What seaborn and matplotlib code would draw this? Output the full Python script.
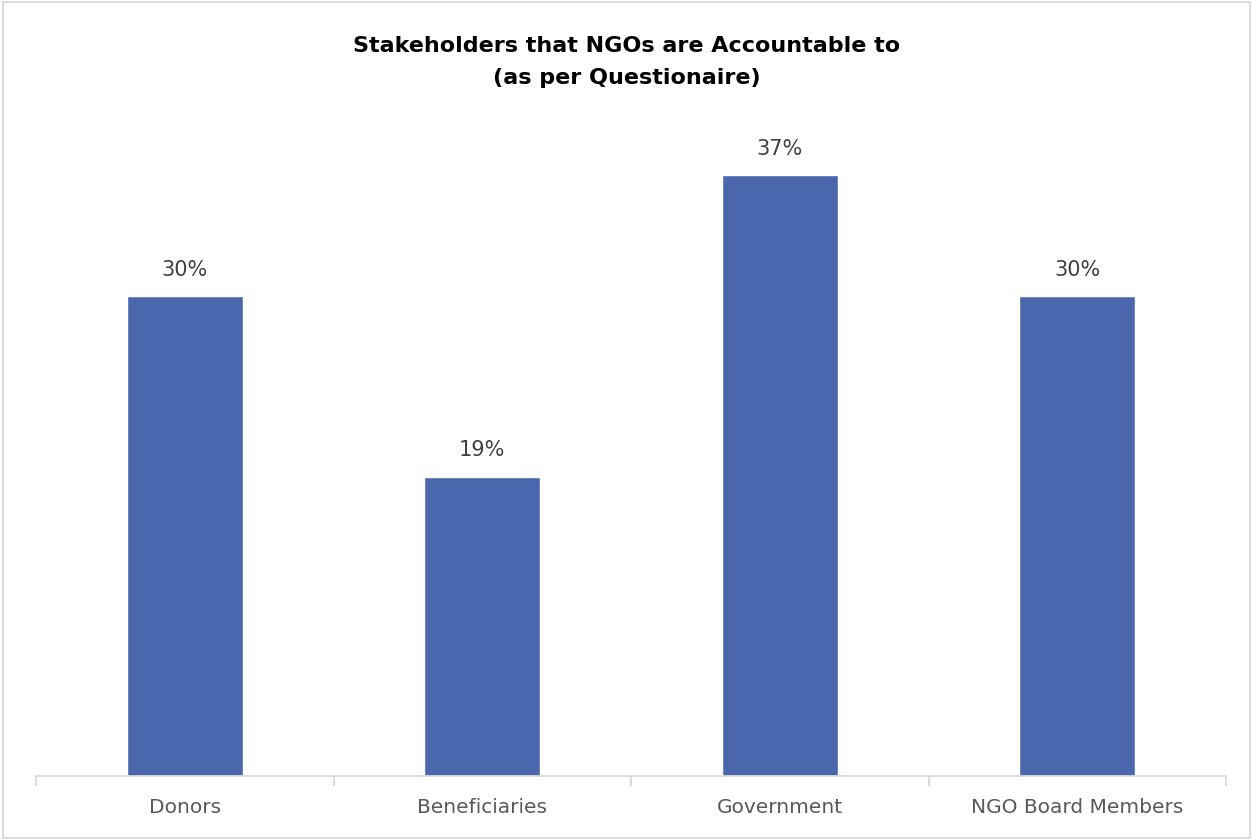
import matplotlib
matplotlib.use("Agg")
import matplotlib.pyplot as plt
import seaborn as sns
import pandas as pd
from matplotlib.patches import Rectangle

categories = ["Donors", "Beneficiaries", "Government", "NGO Board Members"]
values = [29.8, 18.6, 37.3, 29.8]
title = "Stakeholders that NGOs are Accountable to\n(as per Questionaire)"

sns.set_theme(style="white")
plt.rcParams['font.family'] = ['DejaVu Sans']

df = pd.DataFrame({"cat": categories, "val": values})

fig = plt.figure(figsize=(12.53, 8.4), dpi=100)
ax = fig.add_axes([36/1253, 64/840, (1226-36)/1253, (776-132)/840])
sns.barplot(data=df, x="cat", y="val", color="#4a67ad", saturation=1, width=0.39, ax=ax)
ax.set_ylim(0, 40)
ax.set_xlim(-0.5, len(categories)-0.5)
ax.set_xlabel("")
ax.set_ylabel("")
ax.set_yticks([])
for s in ["top", "right", "left"]:
    ax.spines[s].set_visible(False)
ax.spines["bottom"].set_color("#d9d9d9")
ax.spines["bottom"].set_linewidth(1.3)
ax.set_xticks(range(len(categories)))
ax.set_xticklabels(categories, fontsize=14.5, color="#595959")
ax.tick_params(axis="x", length=0, pad=16)
ax.set_xticks([i - 0.5 for i in range(len(categories)+1)], minor=True)
ax.tick_params(axis="x", which="minor", length=7, color="#d9d9d9", width=1.3, direction="out", bottom=True)

for i, v in enumerate(values):
    ax.text(i, v + 1.0, f"{round(v)}%", ha="center", va="bottom", fontsize=15, color="#404040")

fig.text(0.5, 1 - 62/840, title, ha="center", va="center", fontsize=16, fontweight="bold", color="black", linespacing=1.8)
fig.patches.append(Rectangle((0.002, 0.002), 0.996, 0.996, transform=fig.transFigure, fill=False, edgecolor="#d9d9d9", linewidth=1.3))

fig.savefig("out.png", dpi=100)
